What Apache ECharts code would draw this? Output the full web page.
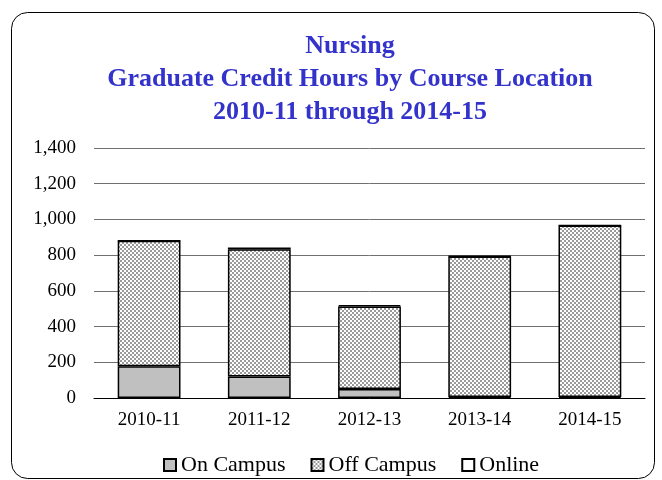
<!DOCTYPE html>
<html><head><meta charset="utf-8">
<script src="https://cdn.jsdelivr.net/npm/echarts@6/dist/echarts.min.js"></script>
<style>html,body{margin:0;padding:0;background:#fff}#c{width:662px;height:480px}</style>
</head><body><div id="c"></div>
<script>
var categories = ['2010-11','2011-12','2012-13','2013-14','2014-15'];
var onCampus  = [178, 120, 50, 5, 6];
var offCampus = [702, 713, 463, 788, 960];
var online    = [1, 10, 6, 2, 1];
var yTicks = [0,200,400,600,800,1000,1200,1400];

function checker(){
  var c = document.createElement('canvas'); c.width = 4; c.height = 4;
  var x = c.getContext('2d');
  x.fillStyle = '#ffffff'; x.fillRect(0,0,4,4);
  x.fillStyle = '#9a9a9a'; x.fillRect(0,0,2,2); x.fillRect(2,2,2,2);
  return c;
}
var pat = {image: checker(), repeat: 'repeat'};
var font = '"Liberation Serif","Times New Roman",serif';
var chart = echarts.init(document.getElementById('c'));
var bs = {borderColor:'#000', borderWidth:1.5};
chart.setOption({
  animation:false,
  title:{text:'Nursing\nGraduate Credit Hours by Course Location\n2010-11 through 2014-15',
    left:345, top:25, textAlign:'center',
    textStyle:{fontFamily:font, fontWeight:'bold', fontSize:26, color:'#3333cc', lineHeight:33}},
  graphic:[{type:'rect', shape:{x:11.5,y:12.5,width:643,height:466,r:16},
    style:{fill:'none', stroke:'#000', lineWidth:1}, z:-1}],
  legend:{top:449, left:158, itemWidth:12, itemHeight:12, itemGap:25,
    textStyle:{fontFamily:font, fontSize:22, color:'#000'},
    data:[{name:'On Campus', icon:'rect'},{name:'Off Campus', icon:'rect'},{name:'Online', icon:'rect'}]},
  grid:{left:94, right:17, top:148, bottom:82},
  xAxis:{type:'category', data:categories,
    axisLine:{lineStyle:{color:'#000', width:1}}, axisTick:{show:false},
    axisLabel:{fontFamily:font, fontSize:19, color:'#000', margin:13}},
  yAxis:{type:'value', min:0, max:1400, interval:200,
    axisLine:{show:false}, axisTick:{show:false},
    splitLine:{lineStyle:{color:'#707070', width:1}},
    axisLabel:{fontFamily:font, fontSize:19, color:'#000', margin:18,
      formatter:function(v){return yTicks.indexOf(v)>=0 ? v.toLocaleString('en-US') : '';}}},
  series:[
    {name:'On Campus', type:'bar', stack:'a', data:onCampus, barWidth:'57%',
      itemStyle:Object.assign({color:'#c0c0c0'}, bs)},
    {name:'Off Campus', type:'bar', stack:'a', data:offCampus,
      itemStyle:Object.assign({color:pat}, bs)},
    {name:'Online', type:'bar', stack:'a', data:online,
      itemStyle:Object.assign({color:'#ffffff'}, bs)}
  ]
});
</script></body></html>
